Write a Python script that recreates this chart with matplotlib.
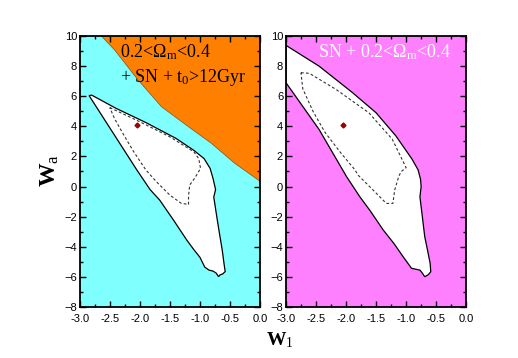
import matplotlib
matplotlib.use("Agg")
import matplotlib.pyplot as plt
from matplotlib.ticker import MultipleLocator

plt.rcParams['font.family'] = ['Liberation Sans', 'DejaVu Sans']
plt.rcParams['mathtext.fontset'] = 'custom'
plt.rcParams['mathtext.rm'] = 'Liberation Serif'
plt.rcParams['mathtext.it'] = 'Liberation Serif'
plt.rcParams['mathtext.bf'] = 'Liberation Serif:bold'

# best fit point
best_w1, best_wa = -2.05, 4.07

# left panel: 0.2<Om<0.4 + SN + t0>12Gyr
left_outer_x = [-2.845, -2.8, -2.4, -1.9, -1.4, -1.1, -0.93, -0.83, -0.78, -0.74, -0.77,
                -0.72, -0.68, -0.63, -0.6, -0.58, -0.62, -0.67, -0.69, -0.73, -0.78,
                -0.85, -0.92, -1.0, -1.1, -1.22, -1.44, -1.67, -1.83, -2.05, -2.845]
left_outer_y = [6.04, 6.07, 5.2, 4.25, 3.2, 2.4, 1.85, 1.2, 0.5, -0.2, -0.7,
                -2.0, -3.0, -4.2, -5.1, -5.65, -5.8, -5.88, -5.99, -5.75, -5.62,
                -5.55, -5.35, -4.7, -4.2, -3.55, -2.23, -0.9, -0.2, 1.1, 6.04]
left_inner_x = [-2.5, -2.0, -1.5, -1.1, -1.02, -0.99, -1.08, -1.17, -1.19, -1.19, -1.25,
                -1.31, -1.5, -1.72, -1.9, -2.1, -2.25, -2.42, -2.5]
left_inner_y = [5.24, 4.3, 3.3, 2.3, 1.85, 1.21, 0.6, 0.1, -0.6, -1.2, -1.15,
                -1.12, -0.57, 0.3, 1.1, 2.3, 3.3, 4.5, 5.24]
# upper bound from t0 > 12 Gyr (excluded region)
age_x = [-2.64, -2.42, -2.03, -1.64, -1.19, -0.81, -0.42, 0.0]
age_y = [10.0, 9.07, 7.08, 5.3, 3.97, 2.87, 1.54, 0.35]

# right panel: SN + 0.2<Om<0.4
right_outer_x = [-3.0, -2.45, -1.89, -1.5, -1.17, -0.9, -0.8, -0.76, -0.75, -0.77, -0.73,
                 -0.69, -0.64, -0.6, -0.59, -0.63, -0.69, -0.73, -0.77, -0.91, -1.05,
                 -1.2, -1.38, -1.6, -1.77, -1.99, -2.45, -3.0]
right_outer_y = [9.38, 8.0, 6.23, 4.9, 3.36, 1.81, 1.1, 0.48, 0.0, -0.68, -2.0,
                 -3.33, -4.3, -5.1, -5.66, -5.85, -5.99, -5.75, -5.55, -5.43, -4.66,
                 -3.8, -2.89, -1.6, -0.68, 0.65, 3.8, 6.9]
right_inner_x = [-2.75, -2.61, -2.17, -1.62, -1.23, -1.0, -1.08, -1.12, -1.19, -1.22,
                 -1.33, -1.55, -1.8, -1.85, -2.1, -2.35, -2.55, -2.72, -2.75]
right_inner_y = [7.56, 7.52, 6.46, 4.9, 3.14, 1.25, 1.0, 0.7, -0.23, -1.12,
                 -1.12, -0.23, 0.76, 1.1, 2.3, 3.6, 5.0, 6.5, 7.56]

xticks = [-3.0, -2.5, -2.0, -1.5, -1.0, -0.5, 0.0]
yticks = [-8, -6, -4, -2, 0, 2, 4, 6, 8, 10]

fig = plt.figure(figsize=(5.18, 3.58), dpi=100)
axl = fig.add_axes([0.154, 0.1425, 0.348, 0.757])
axr = fig.add_axes([0.552, 0.1425, 0.348, 0.757])


def style(ax):
    ax.set_xlim(-3.0, 0.0)
    ax.set_ylim(-8, 10)
    ax.set_xticks(xticks)
    ax.set_xticklabels(['%.1f' % v for v in xticks])
    ax.set_yticks(yticks)
    ax.xaxis.set_minor_locator(MultipleLocator(0.25))
    ax.yaxis.set_minor_locator(MultipleLocator(1))
    ax.tick_params(which='both', direction='in', top=True, right=True,
                   labelsize=8, width=1.0)
    ax.tick_params(axis='x', pad=5)
    ax.tick_params(axis='y', pad=2)
    ax.tick_params(which='major', length=4)
    ax.tick_params(which='minor', length=2.5)
    for s in ax.spines.values():
        s.set_linewidth(1.3)


# left
axl.set_facecolor('#80ffff')
axl.fill(age_x + [0.0], age_y + [10.0], color='#ff8000', lw=0, zorder=1)
axl.plot(age_x, age_y, color='#805020', lw=0.5, zorder=1.5)
axl.fill(left_outer_x, left_outer_y, facecolor='white', edgecolor='black', lw=0.9, zorder=2)
axl.plot(left_inner_x, left_inner_y, color='#333333', lw=0.8, ls=(0, (2.5, 2)), zorder=3)
axl.plot(best_w1, best_wa, marker='D', ms=2.5, color='#990000', zorder=4)
axl.text(-2.33, 8.94, r'0.2<$\Omega_{\rm m}$<0.4', fontsize=13,
         family='Liberation Serif', va='center', ha='left', zorder=5)
axl.text(-2.33, 7.21, r'+ SN + t$_0$>12Gyr', fontsize=13,
         family='Liberation Serif', va='center', ha='left', zorder=5)
style(axl)

# right
axr.set_facecolor('#ff80ff')
axr.fill(right_outer_x, right_outer_y, facecolor='white', edgecolor='black', lw=0.9, zorder=2)
axr.plot(right_inner_x, right_inner_y, color='#333333', lw=0.8, ls=(0, (2.5, 2)), zorder=3)
axr.plot(best_w1, best_wa, marker='D', ms=2.5, color='#990000', zorder=4)
axr.text(-2.47, 8.94, r'SN + 0.2<$\Omega_{\rm m}$<0.4', fontsize=13, color='white',
         family='Liberation Serif', va='center', ha='left', zorder=5)
style(axr)

fig.text(0.097, 0.525, r'$\mathbf{W}_{\rm a}$', fontsize=17, rotation=90,
         ha='center', va='center')
fig.text(0.54, 0.05, r'$\mathbf{W}_{\rm 1}$', fontsize=14, ha='center', va='center')

fig.savefig('out.png', dpi=100)
